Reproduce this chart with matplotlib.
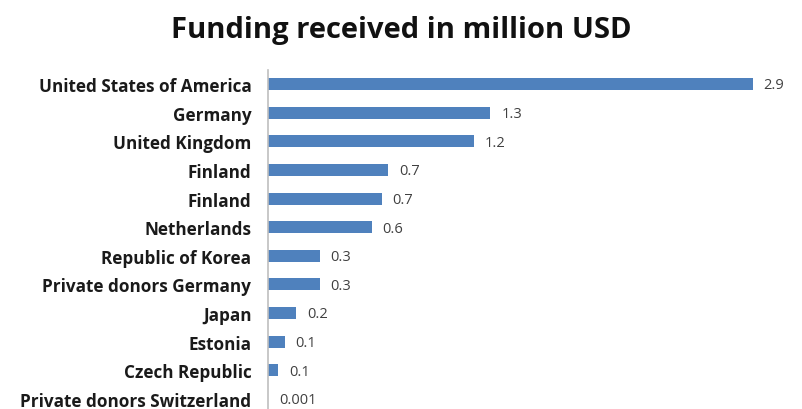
import matplotlib.pyplot as plt

# donors, top to bottom as shown
donors = ["United States of America", "Germany", "United Kingdom", "Finland",
          "Finland", "Netherlands", "Republic of Korea", "Private donors Germany",
          "Japan", "Estonia", "Czech Republic", "Private donors Switzerland"]
# bar lengths (million USD)
funding = [2.9, 1.33, 1.23, 0.72, 0.68, 0.62, 0.31, 0.31, 0.17, 0.10, 0.06, 0.001]
# value labels as printed on the chart
value_labels = ["2.9", "1.3", "1.2", "0.7", "0.7", "0.6", "0.3", "0.3",
                "0.2", "0.1", "0.1", "0.001"]

plt.rcParams['font.family'] = ['Open Sans', 'DejaVu Sans']

fig = plt.figure(figsize=(8.03, 4.10), dpi=100)
ax = fig.add_axes([268 / 803, -0.0105, 535 / 803, 0.838])

pos = list(range(len(donors)))
ax.barh(pos, funding, height=0.42, color="#4F81BD")
ax.set_ylim(len(donors) - 0.5, -0.5)
ax.set_xlim(0, 3.2)

for y, v, lab in zip(pos, funding, value_labels):
    ax.text(v + 0.065, y + 0.03, lab, va="center", ha="left", fontsize=10.5, color="#404040")

ax.set_yticks(pos)
ax.set_yticklabels(donors, fontsize=12.3, fontweight="bold", color="#1a1a1a")
ax.tick_params(axis="y", length=0, pad=12)
ax.set_xticks([])
for s in ["top", "right", "bottom"]:
    ax.spines[s].set_visible(False)
ax.spines["left"].set_color("#BFBFBF")
ax.spines["left"].set_linewidth(1.2)

fig.text(0.5, 0.925, "Funding received in million USD", ha="center", va="center",
         fontsize=21, fontweight="bold", color="#111111")

fig.savefig("out.png", dpi=100)
